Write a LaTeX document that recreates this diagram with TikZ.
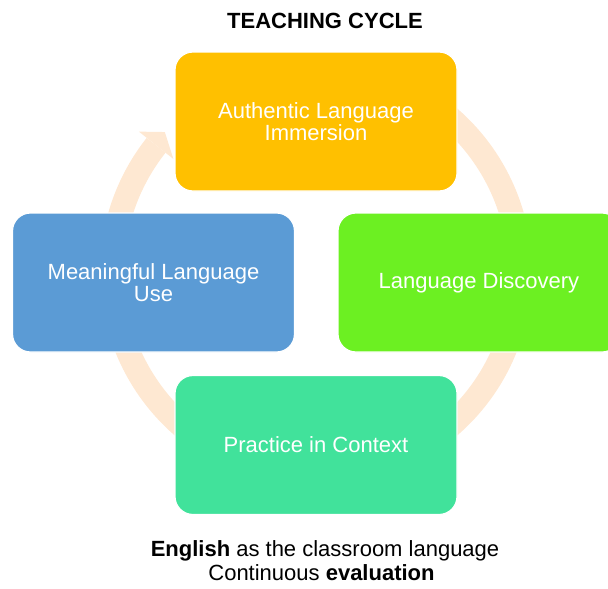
\documentclass[tikz,border=0pt]{standalone}
\usepackage{fontspec}
\setmainfont{Liberation Sans}
\definecolor{ringc}{HTML}{FEE8D2}
\definecolor{orangeb}{HTML}{FFC000}
\definecolor{blueb}{HTML}{5B9BD5}
\definecolor{greenb}{HTML}{6CF022}
\definecolor{tealb}{HTML}{41E29B}
\tikzset{
  cyclebox/.style={rounded corners=18pt, draw=white, line width=1.2pt,
    minimum width=282pt, minimum height=139pt, inner sep=0pt,
    text=white, align=center,
    font=\fontsize{22}{22.3}\selectfont},
  plaintext/.style={anchor=base, text=black, inner sep=0pt,
    font=\fontsize{22}{24}\selectfont},
  ring/.style={draw=ringc, line width=24pt}
}
\begin{document}
\begin{tikzpicture}[x=1pt,y=1pt]
\useasboundingbox (0,0) rectangle (608,-589);
\clip (0,0) rectangle (608,-589);
\coordinate (C) at (316,-272);
% circular arrow
\draw[ring] ([shift={(C)}]80:204) arc[start angle=80, end angle=-218.4, radius=204];
\fill[ringc] ([shift={(C)}]141.6:226) -- ([shift={(C)}]137.2:206) -- ([shift={(C)}]141.6:182) -- cycle;
% boxes
\node[cyclebox, fill=orangeb] (auth) at (316,-121.5) {Authentic Language\\Immersion};
\node[cyclebox, fill=blueb] (mean) at (153.5,-282.5) {Meaningful Language\\Use};
\node[cyclebox, fill=greenb] (disc) at (479,-282.5) {\raisebox{-2.5pt}{Language Discovery}};
\node[cyclebox, fill=tealb] (prac) at (316,-445) {Practice in Context};
% texts
\node[plaintext] (title) at (325,-28) {\bfseries TEACHING CYCLE};
\node[plaintext] (line1) at (325,-556.7) {\textbf{English} as the classroom language};
\node[plaintext] (line2) at (321.5,-580.7) {Continuous \textbf{evaluation}};
\end{tikzpicture}
\end{document}
